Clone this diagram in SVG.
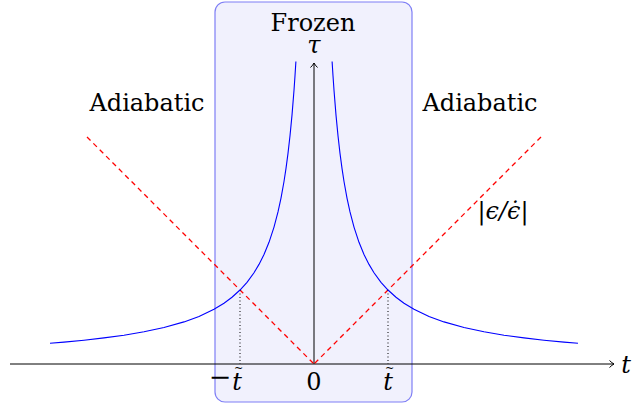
<svg xmlns="http://www.w3.org/2000/svg" width="633" height="406" viewBox="0 0 633 406">
<style>
.lbl{font-family:"DejaVu Serif","Liberation Serif",serif;font-size:24px;fill:#000;text-anchor:middle}
.it{font-style:italic}
.tl{font-family:"DejaVu Serif","Liberation Serif",serif;font-size:11px;fill:#000;text-anchor:middle}
.axis{stroke:#000;stroke-width:1;fill:none}
.curve{stroke:#0000ff;stroke-width:1.1;fill:none}
.dash{stroke:#ff0000;stroke-width:1.3;stroke-dasharray:5 4;fill:none}
.dot{stroke:#000;stroke-width:1;stroke-dasharray:1 2.5;fill:none}
</style>
<defs>
<marker id="arr" markerWidth="10" markerHeight="10" refX="6" refY="5" orient="auto" markerUnits="userSpaceOnUse">
<path d="M1.5,1.5 Q4,4 6,5 Q4,6 1.5,8.5" fill="none" stroke="#000" stroke-width="1"/>
</marker>
</defs>
<g id="frozen-region">
<rect x="215" y="2" width="197" height="400" rx="10" ry="10" fill="#f1f1fd" stroke="#7f7ff5" stroke-width="1.2"/>
<text class="lbl" x="313" y="31">Frozen</text>
</g>
<g id="adiabatic-left"><text class="lbl" x="147" y="111">Adiabatic</text></g>
<g id="adiabatic-right"><text class="lbl" x="480" y="111">Adiabatic</text></g>
<g id="connectors">
<line class="axis" x1="10" y1="364" x2="614" y2="364" marker-end="url(#arr)"/>
<line class="axis" x1="314" y1="364" x2="314" y2="63" marker-end="url(#arr)"/>
<path class="dash" d="M541,137 L314,364"/>
<path class="dash" d="M87,137 L314,364"/>
<line class="dot" x1="240" y1="290" x2="240" y2="364"/>
<line class="dot" x1="388" y1="290" x2="388" y2="364"/>
<polyline class="curve" points="332.1,61.5 333,75.8 334,90.2 336,115.1 338,135.8 340,153.4 342,168.4 344,181.5 347,198.1 350,211.9 354,227.1 359,242.3 364,254.5 369,264.4 374,272.7 381,282.3 388,290 396,297.2 404,303.2 414,309.2 429,316.4 444,321.9 464,327.5 484,331.8 504,335.2 524,337.9 544,340.2 564,342.1 578,343.3"/>
<polyline class="curve" points="295.9,61.5 295,75.8 294,90.2 292,115.1 290,135.8 288,153.4 286,168.4 284,181.5 281,198.1 278,211.9 274,227.1 269,242.3 264,254.5 259,264.4 254,272.7 247,282.3 240,290 232,297.2 224,303.2 214,309.2 199,316.4 184,321.9 164,327.5 144,331.8 124,335.2 104,337.9 84,340.2 64,342.1 50,343.3"/>
</g>
<g id="labels">
<text class="lbl it" x="314" y="53">τ</text>
<text class="lbl it" x="626" y="373">t</text>
<text class="lbl" x="314" y="390">0</text>
<text class="lbl it" x="388" y="390">t</text>
<text class="tl" x="389.5" y="372">~</text>
<text class="lbl" x="220" y="386" style="font-size:27px">−</text>
<text class="lbl it" x="237" y="390">t</text>
<text class="tl" x="238.5" y="372">~</text>
<text class="lbl it" x="503" y="219">|ϵ/ϵ̇|</text>
</g>
</svg>
